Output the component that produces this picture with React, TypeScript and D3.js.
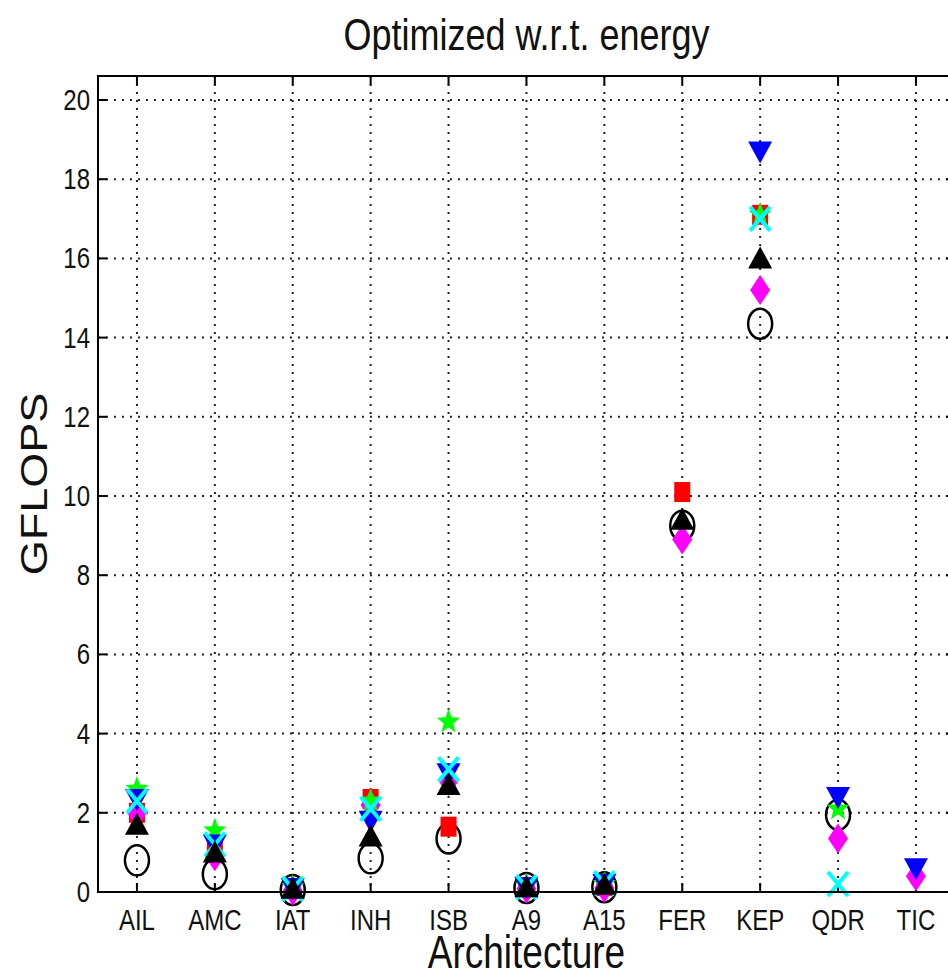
import React from "react";
import * as d3 from "d3";

const categories = ["AIL", "AMC", "IAT", "INH", "ISB", "A9", "A15", "FER", "KEP", "QDR", "TIC"];
const yTicks = [0, 2, 4, 6, 8, 10, 12, 14, 16, 18, 20];

// series values per category (null = not present)
const circleBlack = [0.8, 0.45, 0.05, 0.85, 1.35, 0.1, 0.12, 9.25, 14.35, 1.95, null];
const squareRed = [2.0, 1.1, 0.08, 2.35, 1.65, 0.12, 0.15, 10.1, 17.1, null, null];
const diamondMagenta = [2.0, 0.9, 0.03, 2.2, 2.8, 0.08, 0.1, 8.9, 15.2, 1.35, 0.4];
const starGreen = [2.6, 1.55, 0.12, 2.3, 4.3, 0.15, 0.2, null, 17.1, 2.1, null];
const triDownBlue = [2.35, 1.2, 0.1, 1.8, 3.0, 0.12, 0.2, null, 18.7, 2.4, 0.6];
const xCyan = [2.3, 1.2, 0.08, 2.1, 3.1, 0.12, 0.22, null, 17.0, 0.2, null];
const triUpBlack = [1.7, 1.0, 0.08, 1.4, 2.7, 0.12, 0.18, 9.4, 16.0, null, null];

const W = 948, H = 978;
const left = 98, top = 76, bottom = 892;
const step = 77.9;
const right = left + step * 11;

const x = d3.scaleLinear().domain([0.5, 11.5]).range([left, right]);
const y = d3.scaleLinear().domain([0, 20]).range([bottom, 100]);

const SY = 1.25;
const font = "'Liberation Sans', Arial, Helvetica, sans-serif";

function Txt(props: { x: number; y: number; size: number; anchor?: string; rotate?: number; children: any }) {
  const { x: tx, y: ty, size, anchor = "middle", rotate = 0, children } = props;
  const tr = rotate
    ? `translate(${tx},${ty}) rotate(${rotate}) scale(${SY},1)`
    : `translate(${tx},${ty}) scale(1,${SY})`;
  return (
    <text transform={tr} fontSize={size} fontFamily={font} textAnchor={anchor} fill="#111">
      {children}
    </text>
  );
}

const starPath = (() => {
  const pts: string[] = [];
  for (let i = 0; i < 10; i++) {
    const r = i % 2 === 0 ? 12 : 5;
    const a = -Math.PI / 2 + (i * Math.PI) / 5;
    pts.push(`${(r * Math.cos(a)).toFixed(2)},${(r * Math.sin(a) * 1.1).toFixed(2)}`);
  }
  return "M" + pts.join("L") + "Z";
})();

type Series = { vals: (number | null)[]; draw: (cx: number, cy: number, k: string) => any };

const series: Series[] = [
  {
    vals: circleBlack,
    draw: (cx, cy, k) => <ellipse key={k} cx={cx} cy={cy} rx={12} ry={15} fill="none" stroke="#000" strokeWidth={2.5} />,
  },
  {
    vals: squareRed,
    draw: (cx, cy, k) => <rect key={k} x={cx - 8} y={cy - 10} width={16} height={20} fill="#ff0000" />,
  },
  {
    vals: diamondMagenta,
    draw: (cx, cy, k) => (
      <path key={k} d={`M${cx},${cy - 15}L${cx + 10},${cy}L${cx},${cy + 15}L${cx - 10},${cy}Z`} fill="#ff00ff" />
    ),
  },
  {
    vals: starGreen,
    draw: (cx, cy, k) => <path key={k} d={starPath} transform={`translate(${cx},${cy})`} fill="#00ff00" />,
  },
  {
    vals: triDownBlue,
    draw: (cx, cy, k) => (
      <path key={k} d={`M${cx - 12},${cy - 10}L${cx + 12},${cy - 10}L${cx},${cy + 12}Z`} fill="#0000ff" />
    ),
  },
  {
    vals: xCyan,
    draw: (cx, cy, k) => (
      <path
        key={k}
        d={`M${cx - 10},${cy - 12}L${cx + 10},${cy + 12}M${cx - 10},${cy + 12}L${cx + 10},${cy - 12}`}
        stroke="#00ffff"
        strokeWidth={4}
        fill="none"
      />
    ),
  },
  {
    vals: triUpBlack,
    draw: (cx, cy, k) => (
      <path key={k} d={`M${cx - 12},${cy + 10}L${cx + 12},${cy + 10}L${cx},${cy - 12}Z`} fill="#000" />
    ),
  },
];

export default function App() {
  const grid = "#222";
  return (
    <svg width={W} height={H} style={{ position: "absolute", left: 0, top: 0, background: "#fff" }}>
      <rect x={0} y={0} width={W} height={H} fill="#fff" />
      {/* grid */}
      {yTicks.map((t) => (
        <line key={"gy" + t} x1={left} x2={right} y1={y(t)} y2={y(t)} stroke={grid} strokeWidth={2} strokeDasharray="2,6" />
      ))}
      {categories.map((c, i) => (
        <line key={"gx" + c} x1={x(i + 1)} x2={x(i + 1)} y1={top} y2={bottom} stroke={grid} strokeWidth={2} strokeDasharray="2,6" />
      ))}
      {/* ticks */}
      {yTicks.map((t) => (
        <g key={"ty" + t}>
          <line x1={left} x2={left + 9} y1={y(t)} y2={y(t)} stroke="#000" strokeWidth={2} />
          <line x1={right} x2={right - 9} y1={y(t)} y2={y(t)} stroke="#000" strokeWidth={2} />
          <Txt x={left - 8} y={y(t) + 10} size={24} anchor="end">{t}</Txt>
        </g>
      ))}
      {categories.map((c, i) => (
        <g key={"tx" + c}>
          <line x1={x(i + 1)} x2={x(i + 1)} y1={bottom} y2={bottom - 9} stroke="#000" strokeWidth={2} />
          <line x1={x(i + 1)} x2={x(i + 1)} y1={top} y2={top + 9} stroke="#000" strokeWidth={2} />
          <Txt x={x(i + 1)} y={bottom + 38} size={24}>{c}</Txt>
        </g>
      ))}
      {/* markers */}
      {series.map((s, si) =>
        s.vals.map((v, i) => (v == null ? null : s.draw(x(i + 1), y(v), `m${si}-${i}`)))
      )}
      {/* axes box */}
      <rect x={left} y={top} width={right - left} height={bottom - top} fill="none" stroke="#000" strokeWidth={2} />
      <Txt x={(left + right) / 2} y={50} size={36}>Optimized w.r.t. energy</Txt>
      <Txt x={(left + right) / 2} y={968} size={37}>Architecture</Txt>
      <Txt x={47} y={(top + bottom) / 2} size={36} rotate={-90}>GFLOPS</Txt>
    </svg>
  );
}
